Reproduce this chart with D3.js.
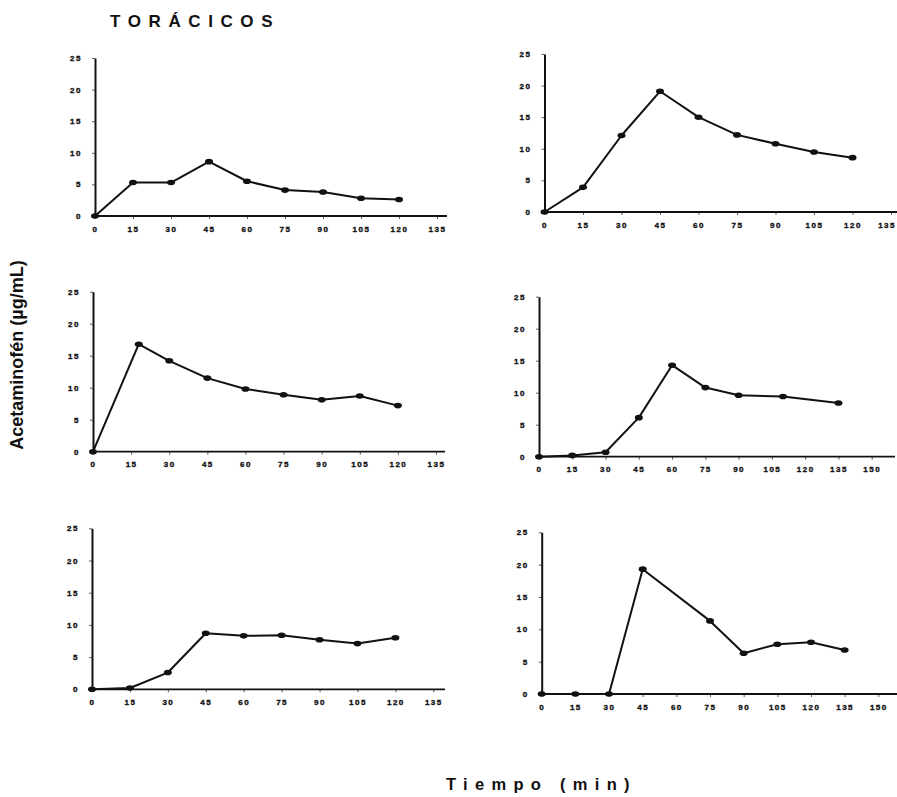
<!DOCTYPE html>
<html>
<head>
<meta charset="utf-8">
<script src="https://cdn.jsdelivr.net/npm/d3@7/dist/d3.min.js"></script>
<style>
  html, body { margin: 0; padding: 0; background: #fff; }
  svg { display: block; }
  .tick text { font-family: "Liberation Sans", Arial, sans-serif; font-weight: bold; font-size: 8px; letter-spacing: 1.5px; fill: #111; stroke: #111; stroke-width: 0.35px; }
</style>
</head>
<body>
<svg id="chart" width="897" height="797"></svg>
<script>
// Plasma acetaminophen curves, thoracic group: one panel per subject
const yTicks = [0, 5, 10, 15, 20, 25];
const xTicks135 = [0, 15, 30, 45, 60, 75, 90, 105, 120, 135];
const xTicks150 = [0, 15, 30, 45, 60, 75, 90, 105, 120, 135, 150];

const times1 = [0, 15, 30, 45, 60, 75, 90, 105, 120];
const conc1  = [0, 5.3, 5.3, 8.6, 5.5, 4.1, 3.8, 2.8, 2.6];

const times2 = [0, 15, 30, 45, 60, 75, 90, 105, 120];
const conc2  = [0, 3.9, 12.1, 19.1, 15.0, 12.2, 10.8, 9.5, 8.6];

const times3 = [0, 18, 30, 45, 60, 75, 90, 105, 120];
const conc3  = [0, 16.8, 14.2, 11.5, 9.8, 8.9, 8.1, 8.7, 7.2];

const times4 = [0, 15, 30, 45, 60, 75, 90, 110, 135];
const conc4  = [0, 0.2, 0.7, 6.1, 14.3, 10.8, 9.6, 9.4, 8.4];

const times5 = [0, 15, 30, 45, 60, 75, 90, 105, 120];
const conc5  = [0, 0.2, 2.6, 8.7, 8.3, 8.4, 7.7, 7.1, 8.0];

const times6 = [0, 15, 30, 45, 75, 90, 105, 120, 135];
const conc6  = [0, 0, 0, 19.3, 11.3, 6.3, 7.7, 8.0, 6.8];

const titleText = "TORÁCICOS";
const yLabelText = "Acetaminofén (µg/mL)";
const xLabelText = "Tiempo (min)";

const W = 897;

// panel geometry: origin pixel, pixel of last tick, end of the time axis, y extent
const panels = [
  { t: times1, c: conc1, ticks: xTicks135, x0: 95,    xLast: 437,   axisEnd: 447, yBottom: 216,   yTop: 58 },
  { t: times2, c: conc2, ticks: xTicks135, x0: 544.5, xLast: 891,   axisEnd: 900, yBottom: 212,   yTop: 54 },
  { t: times3, c: conc3, ticks: xTicks135, x0: 93,    xLast: 436,   axisEnd: 445, yBottom: 451.7, yTop: 291.7 },
  { t: times4, c: conc4, ticks: xTicks150, x0: 539,   xLast: 871.7, axisEnd: 895, yBottom: 456.7, yTop: 296.7 },
  { t: times5, c: conc5, ticks: xTicks135, x0: 92,    xLast: 433.3, axisEnd: 445, yBottom: 689.3, yTop: 528.3 },
  { t: times6, c: conc6, ticks: xTicks150, x0: 541.7, xLast: 878.3, axisEnd: 900, yBottom: 694,   yTop: 532.3 }
];

const svg = d3.select("#chart");

panels.forEach(p => {
  const lastTick = p.ticks[p.ticks.length - 1];
  const x = d3.scaleLinear().domain([0, lastTick]).range([p.x0, p.xLast]);
  const y = d3.scaleLinear().domain([0, 25]).range([p.yBottom, p.yTop]);
  const g = svg.append("g");

  // time axis
  const gx = g.append("g")
    .attr("transform", `translate(0,${y(0)})`)
    .call(d3.axisBottom(x).tickValues(p.ticks).tickSize(3).tickSizeOuter(0).tickPadding(7));
  gx.select(".domain").remove();
  gx.selectAll(".tick line").attr("stroke", "#333").attr("stroke-width", 0.8);
  // keep tick labels near the right page edge inside the page
  gx.selectAll(".tick text").each(function () {
    const box = this.getBoundingClientRect();
    const over = box.right - (W - 1);
    if (over > 0) d3.select(this).attr("dx", -over);
  });
  g.append("line")
    .attr("x1", x(0)).attr("x2", p.axisEnd)
    .attr("y1", y(0)).attr("y2", y(0))
    .attr("stroke", "#111").attr("stroke-width", 1.8);

  // concentration axis
  const gy = g.append("g")
    .attr("transform", `translate(${x(0)},0)`)
    .call(d3.axisLeft(y).tickValues(yTicks).tickSize(3).tickSizeOuter(0).tickPadding(10));
  gy.select(".domain").attr("stroke", "#111").attr("stroke-width", 2);
  gy.selectAll(".tick line").attr("stroke", "#333").attr("stroke-width", 0.8);

  const pts = p.t.map((t, i) => ({ t, c: p.c[i] }));

  g.append("path")
    .datum(pts)
    .attr("fill", "none")
    .attr("stroke", "#111")
    .attr("stroke-width", 2)
    .attr("stroke-linejoin", "round")
    .attr("d", d3.line().x(d => x(d.t)).y(d => y(d.c)));

  g.selectAll("ellipse")
    .data(pts)
    .join("ellipse")
    .attr("cx", d => x(d.t))
    .attr("cy", d => y(d.c))
    .attr("rx", 4)
    .attr("ry", 2.8)
    .attr("fill", "#111");
});

svg.append("text")
  .attr("x", 110).attr("y", 27)
  .attr("font-family", "Liberation Sans, Arial, sans-serif")
  .attr("font-weight", "bold")
  .attr("font-size", 17)
  .attr("letter-spacing", 7.6)
  .attr("fill", "#111")
  .text(titleText);

svg.append("text")
  .attr("transform", "translate(23,355) rotate(-90)")
  .attr("text-anchor", "middle")
  .attr("font-family", "Liberation Sans, Arial, sans-serif")
  .attr("font-weight", "bold")
  .attr("font-size", 18)
  .attr("fill", "#111")
  .text(yLabelText);

svg.append("text")
  .attr("x", 446).attr("y", 790)
  .attr("font-family", "Liberation Sans, Arial, sans-serif")
  .attr("font-weight", "bold")
  .attr("font-size", 16.5)
  .attr("letter-spacing", 7.3)
  .attr("fill", "#111")
  .text(xLabelText);
</script>
</body>
</html>
